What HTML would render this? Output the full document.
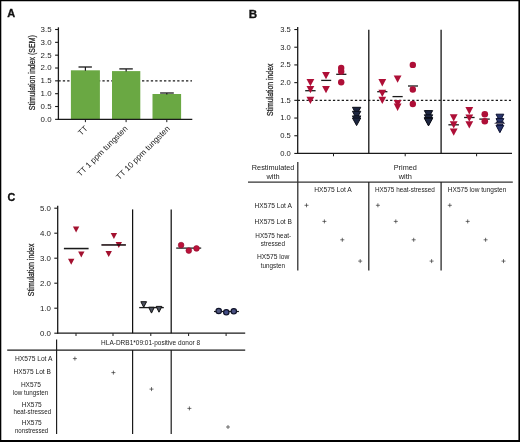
<!DOCTYPE html>
<html lang="en"><head><meta charset="utf-8"><title>Figure</title>
<style>
html,body{margin:0;padding:0;background:#fff;}
body{width:520px;height:442px;overflow:hidden;position:relative;font-family:"Liberation Sans",sans-serif;}
svg{position:absolute;left:0;top:0;display:block;opacity:0.999;will-change:transform;font-family:"Liberation Sans",sans-serif;}
</style></head>
<body>
<svg width="520" height="442" viewBox="0 0 520 442">
<rect x="0" y="0" width="520" height="442" fill="#fff"/>
<text x="7.30" y="13.30" font-size="10.5" text-anchor="start" font-weight="bold" fill="#111" dominant-baseline="central" textLength="7.90" lengthAdjust="spacingAndGlyphs" stroke="#111" stroke-width="0.3">A</text>
<text x="248.80" y="13.80" font-size="10.5" text-anchor="start" font-weight="bold" fill="#111" dominant-baseline="central" textLength="8.40" lengthAdjust="spacingAndGlyphs" stroke="#111" stroke-width="0.3">B</text>
<text x="7.60" y="196.50" font-size="10.5" text-anchor="start" font-weight="bold" fill="#111" dominant-baseline="central" textLength="7.80" lengthAdjust="spacingAndGlyphs" stroke="#111" stroke-width="0.3">C</text>
<line x1="58.40" y1="80.84" x2="192.00" y2="80.84" stroke="#1a1a1a" stroke-width="1.2" stroke-dasharray="2.3 2.1"/>
<rect x="70.90" y="70.30" width="29.00" height="49.05" fill="#6aa843"/>
<line x1="85.40" y1="67.00" x2="85.40" y2="70.80" stroke="#1a1a1a" stroke-width="1.2"/>
<line x1="78.50" y1="67.00" x2="91.90" y2="67.00" stroke="#1a1a1a" stroke-width="1.3"/>
<rect x="112.00" y="71.10" width="28.30" height="48.25" fill="#6aa843"/>
<line x1="126.15" y1="68.90" x2="126.15" y2="71.60" stroke="#1a1a1a" stroke-width="1.2"/>
<line x1="119.30" y1="68.90" x2="132.80" y2="68.90" stroke="#1a1a1a" stroke-width="1.3"/>
<rect x="152.50" y="94.00" width="28.60" height="25.35" fill="#6aa843"/>
<line x1="166.80" y1="93.00" x2="166.80" y2="94.50" stroke="#1a1a1a" stroke-width="1.2"/>
<line x1="160.10" y1="93.00" x2="173.80" y2="93.00" stroke="#1a1a1a" stroke-width="1.3"/>
<line x1="58.40" y1="27.30" x2="58.40" y2="119.95" stroke="#1a1a1a" stroke-width="1.3"/>
<line x1="57.80" y1="119.35" x2="192.30" y2="119.35" stroke="#1a1a1a" stroke-width="1.3"/>
<line x1="55.10" y1="119.35" x2="58.40" y2="119.35" stroke="#1a1a1a" stroke-width="1.1"/>
<text x="51.60" y="119.25" font-size="8" text-anchor="end" font-weight="normal" fill="#222" dominant-baseline="central" textLength="11.00" lengthAdjust="spacingAndGlyphs" >0.0</text>
<line x1="55.10" y1="106.51" x2="58.40" y2="106.51" stroke="#1a1a1a" stroke-width="1.1"/>
<text x="51.60" y="106.41" font-size="8" text-anchor="end" font-weight="normal" fill="#222" dominant-baseline="central" textLength="11.00" lengthAdjust="spacingAndGlyphs" >0.5</text>
<line x1="55.10" y1="93.68" x2="58.40" y2="93.68" stroke="#1a1a1a" stroke-width="1.1"/>
<text x="51.60" y="93.58" font-size="8" text-anchor="end" font-weight="normal" fill="#222" dominant-baseline="central" textLength="11.00" lengthAdjust="spacingAndGlyphs" >1.0</text>
<line x1="55.10" y1="80.84" x2="58.40" y2="80.84" stroke="#1a1a1a" stroke-width="1.1"/>
<text x="51.60" y="80.75" font-size="8" text-anchor="end" font-weight="normal" fill="#222" dominant-baseline="central" textLength="11.00" lengthAdjust="spacingAndGlyphs" >1.5</text>
<line x1="55.10" y1="68.01" x2="58.40" y2="68.01" stroke="#1a1a1a" stroke-width="1.1"/>
<text x="51.60" y="67.91" font-size="8" text-anchor="end" font-weight="normal" fill="#222" dominant-baseline="central" textLength="11.00" lengthAdjust="spacingAndGlyphs" >2.0</text>
<line x1="55.10" y1="55.17" x2="58.40" y2="55.17" stroke="#1a1a1a" stroke-width="1.1"/>
<text x="51.60" y="55.07" font-size="8" text-anchor="end" font-weight="normal" fill="#222" dominant-baseline="central" textLength="11.00" lengthAdjust="spacingAndGlyphs" >2.5</text>
<line x1="55.10" y1="42.34" x2="58.40" y2="42.34" stroke="#1a1a1a" stroke-width="1.1"/>
<text x="51.60" y="42.24" font-size="8" text-anchor="end" font-weight="normal" fill="#222" dominant-baseline="central" textLength="11.00" lengthAdjust="spacingAndGlyphs" >3.0</text>
<line x1="55.10" y1="29.50" x2="58.40" y2="29.50" stroke="#1a1a1a" stroke-width="1.1"/>
<text x="51.60" y="29.40" font-size="8" text-anchor="end" font-weight="normal" fill="#222" dominant-baseline="central" textLength="11.00" lengthAdjust="spacingAndGlyphs" >3.5</text>
<line x1="85.40" y1="119.35" x2="85.40" y2="122.15" stroke="#1a1a1a" stroke-width="1.0"/>
<line x1="126.10" y1="119.35" x2="126.10" y2="122.15" stroke="#1a1a1a" stroke-width="1.0"/>
<line x1="166.80" y1="119.35" x2="166.80" y2="122.15" stroke="#1a1a1a" stroke-width="1.0"/>
<text transform="translate(31.80,72.70) rotate(-90)" font-size="8.5" text-anchor="middle" dominant-baseline="central" fill="#222" stroke="#222" stroke-width="0.25" textLength="75.00" lengthAdjust="spacingAndGlyphs">Stimulation index (SEM)</text>
<text transform="translate(86.50,127.30) rotate(-45)" font-size="8.1" text-anchor="end" dominant-baseline="central" fill="#222">TT</text>
<text transform="translate(126.40,127.30) rotate(-45)" font-size="8.1" text-anchor="end" dominant-baseline="central" fill="#222">TT 1 ppm tungsten</text>
<text transform="translate(168.60,127.30) rotate(-45)" font-size="8.1" text-anchor="end" dominant-baseline="central" fill="#222">TT 10 ppm tungsten</text>
<line x1="297.70" y1="100.33" x2="511.00" y2="100.33" stroke="#1a1a1a" stroke-width="1.2" stroke-dasharray="2.3 2.1"/>
<line x1="305.20" y1="90.70" x2="315.60" y2="90.70" stroke="#1a1a1a" stroke-width="1.3"/>
<line x1="321.20" y1="80.40" x2="331.20" y2="80.40" stroke="#1a1a1a" stroke-width="1.3"/>
<line x1="336.20" y1="74.30" x2="346.40" y2="74.30" stroke="#1a1a1a" stroke-width="1.3"/>
<line x1="377.20" y1="91.70" x2="387.40" y2="91.70" stroke="#1a1a1a" stroke-width="1.3"/>
<line x1="392.50" y1="96.60" x2="402.70" y2="96.60" stroke="#1a1a1a" stroke-width="1.3"/>
<line x1="408.00" y1="86.00" x2="418.00" y2="86.00" stroke="#1a1a1a" stroke-width="1.3"/>
<line x1="448.40" y1="124.80" x2="458.90" y2="124.80" stroke="#1a1a1a" stroke-width="1.3"/>
<line x1="464.10" y1="117.50" x2="474.60" y2="117.50" stroke="#1a1a1a" stroke-width="1.3"/>
<line x1="479.30" y1="119.10" x2="489.80" y2="119.10" stroke="#1a1a1a" stroke-width="1.3"/>
<polygon points="306.50,79.00 314.30,79.00 310.40,86.30" fill="#ae0f37"/>
<polygon points="306.50,86.00 314.30,86.00 310.40,93.30" fill="#ae0f37"/>
<polygon points="306.50,96.70 314.30,96.70 310.40,104.00" fill="#ae0f37"/>
<polygon points="322.10,71.90 329.90,71.90 326.00,79.20" fill="#ae0f37"/>
<polygon points="322.10,86.00 329.90,86.00 326.00,93.30" fill="#ae0f37"/>
<circle cx="341.20" cy="68.00" r="3.2" fill="#ae0f37"/>
<circle cx="341.20" cy="71.50" r="3.2" fill="#ae0f37"/>
<circle cx="341.20" cy="82.30" r="3.2" fill="#ae0f37"/>
<polygon points="352.45,107.30 360.75,107.30 356.60,114.90" fill="#1d2640" stroke="#0b0e18" stroke-width="1.0" stroke-linejoin="miter"/>
<polygon points="352.45,111.30 360.75,111.30 356.60,118.90" fill="#1d2640" stroke="#0b0e18" stroke-width="1.0" stroke-linejoin="miter"/>
<polygon points="352.45,115.90 360.75,115.90 356.60,123.50" fill="#1d2640" stroke="#0b0e18" stroke-width="1.0" stroke-linejoin="miter"/>
<polygon points="352.45,118.00 360.75,118.00 356.60,125.60" fill="#1d2640" stroke="#0b0e18" stroke-width="1.0" stroke-linejoin="miter"/>
<polygon points="378.40,79.10 386.20,79.10 382.30,86.40" fill="#ae0f37"/>
<polygon points="378.40,89.70 386.20,89.70 382.30,97.00" fill="#ae0f37"/>
<polygon points="378.40,96.80 386.20,96.80 382.30,104.10" fill="#ae0f37"/>
<polygon points="393.70,75.50 401.50,75.50 397.60,82.80" fill="#ae0f37"/>
<polygon points="393.70,99.90 401.50,99.90 397.60,107.20" fill="#ae0f37"/>
<polygon points="393.70,103.60 401.50,103.60 397.60,110.90" fill="#ae0f37"/>
<circle cx="412.80" cy="64.90" r="3.2" fill="#ae0f37"/>
<circle cx="412.80" cy="89.50" r="3.2" fill="#ae0f37"/>
<circle cx="412.80" cy="104.00" r="3.2" fill="#ae0f37"/>
<polygon points="424.35,110.60 432.65,110.60 428.50,118.20" fill="#1d2640" stroke="#0b0e18" stroke-width="1.0" stroke-linejoin="miter"/>
<polygon points="424.35,114.80 432.65,114.80 428.50,122.40" fill="#1d2640" stroke="#0b0e18" stroke-width="1.0" stroke-linejoin="miter"/>
<polygon points="424.35,117.50 432.65,117.50 428.50,125.10" fill="#1d2640" stroke="#0b0e18" stroke-width="1.0" stroke-linejoin="miter"/>
<polygon points="424.35,118.30 432.65,118.30 428.50,125.90" fill="#1d2640" stroke="#0b0e18" stroke-width="1.0" stroke-linejoin="miter"/>
<polygon points="449.80,114.30 457.60,114.30 453.70,121.60" fill="#ae0f37"/>
<polygon points="449.80,121.30 457.60,121.30 453.70,128.60" fill="#ae0f37"/>
<polygon points="449.80,128.40 457.60,128.40 453.70,135.70" fill="#ae0f37"/>
<polygon points="465.40,107.10 473.20,107.10 469.30,114.40" fill="#ae0f37"/>
<polygon points="465.40,114.40 473.20,114.40 469.30,121.70" fill="#ae0f37"/>
<polygon points="465.40,121.20 473.20,121.20 469.30,128.50" fill="#ae0f37"/>
<circle cx="484.80" cy="114.20" r="3.3" fill="#ae0f37"/>
<circle cx="484.80" cy="121.30" r="3.3" fill="#ae0f37"/>
<polygon points="496.00,114.20 503.80,114.20 499.90,121.60" fill="#28346a" stroke="#0c1030" stroke-width="1.0" stroke-linejoin="miter"/>
<polygon points="496.00,118.60 503.80,118.60 499.90,126.00" fill="#28346a" stroke="#0c1030" stroke-width="1.0" stroke-linejoin="miter"/>
<polygon points="496.00,122.10 503.80,122.10 499.90,129.50" fill="#28346a" stroke="#0c1030" stroke-width="1.0" stroke-linejoin="miter"/>
<polygon points="496.00,125.30 503.80,125.30 499.90,132.70" fill="#28346a" stroke="#0c1030" stroke-width="1.0" stroke-linejoin="miter"/>
<line x1="494.50" y1="123.40" x2="504.90" y2="123.40" stroke="#6b6470" stroke-width="1.0"/>
<line x1="297.70" y1="27.00" x2="297.70" y2="154.05" stroke="#1a1a1a" stroke-width="1.3"/>
<line x1="297.10" y1="153.45" x2="512.00" y2="153.45" stroke="#1a1a1a" stroke-width="1.3"/>
<line x1="294.30" y1="153.45" x2="297.70" y2="153.45" stroke="#1a1a1a" stroke-width="1.1"/>
<text x="290.80" y="153.25" font-size="8" text-anchor="end" font-weight="normal" fill="#222" dominant-baseline="central" textLength="10.60" lengthAdjust="spacingAndGlyphs" >0.0</text>
<line x1="294.30" y1="135.75" x2="297.70" y2="135.75" stroke="#1a1a1a" stroke-width="1.1"/>
<text x="290.80" y="135.55" font-size="8" text-anchor="end" font-weight="normal" fill="#222" dominant-baseline="central" textLength="10.60" lengthAdjust="spacingAndGlyphs" >0.5</text>
<line x1="294.30" y1="118.04" x2="297.70" y2="118.04" stroke="#1a1a1a" stroke-width="1.1"/>
<text x="290.80" y="117.84" font-size="8" text-anchor="end" font-weight="normal" fill="#222" dominant-baseline="central" textLength="10.60" lengthAdjust="spacingAndGlyphs" >1.0</text>
<line x1="294.30" y1="100.33" x2="297.70" y2="100.33" stroke="#1a1a1a" stroke-width="1.1"/>
<text x="290.80" y="100.13" font-size="8" text-anchor="end" font-weight="normal" fill="#222" dominant-baseline="central" textLength="10.60" lengthAdjust="spacingAndGlyphs" >1.5</text>
<line x1="294.30" y1="82.63" x2="297.70" y2="82.63" stroke="#1a1a1a" stroke-width="1.1"/>
<text x="290.80" y="82.43" font-size="8" text-anchor="end" font-weight="normal" fill="#222" dominant-baseline="central" textLength="10.60" lengthAdjust="spacingAndGlyphs" >2.0</text>
<line x1="294.30" y1="64.92" x2="297.70" y2="64.92" stroke="#1a1a1a" stroke-width="1.1"/>
<text x="290.80" y="64.72" font-size="8" text-anchor="end" font-weight="normal" fill="#222" dominant-baseline="central" textLength="10.60" lengthAdjust="spacingAndGlyphs" >2.5</text>
<line x1="294.30" y1="47.22" x2="297.70" y2="47.22" stroke="#1a1a1a" stroke-width="1.1"/>
<text x="290.80" y="47.02" font-size="8" text-anchor="end" font-weight="normal" fill="#222" dominant-baseline="central" textLength="10.60" lengthAdjust="spacingAndGlyphs" >3.0</text>
<line x1="294.30" y1="29.52" x2="297.70" y2="29.52" stroke="#1a1a1a" stroke-width="1.1"/>
<text x="290.80" y="29.32" font-size="8" text-anchor="end" font-weight="normal" fill="#222" dominant-baseline="central" textLength="10.60" lengthAdjust="spacingAndGlyphs" >3.5</text>
<line x1="333.50" y1="153.45" x2="333.50" y2="156.25" stroke="#1a1a1a" stroke-width="1.0"/>
<line x1="405.20" y1="153.45" x2="405.20" y2="156.25" stroke="#1a1a1a" stroke-width="1.0"/>
<line x1="476.60" y1="153.45" x2="476.60" y2="156.25" stroke="#1a1a1a" stroke-width="1.0"/>
<line x1="368.80" y1="29.70" x2="368.80" y2="153.45" stroke="#151515" stroke-width="1.3"/>
<line x1="441.10" y1="29.70" x2="441.10" y2="153.45" stroke="#151515" stroke-width="1.3"/>
<text transform="translate(270.30,89.80) rotate(-90)" font-size="8.5" text-anchor="middle" dominant-baseline="central" fill="#222" stroke="#222" stroke-width="0.25" textLength="52.40" lengthAdjust="spacingAndGlyphs">Stimulation index</text>
<line x1="297.80" y1="162.00" x2="297.80" y2="270.60" stroke="#222" stroke-width="1.2"/>
<line x1="248.00" y1="182.00" x2="512.80" y2="182.00" stroke="#333" stroke-width="1.25"/>
<line x1="368.80" y1="182.00" x2="368.80" y2="270.60" stroke="#222" stroke-width="1.25"/>
<line x1="441.10" y1="182.00" x2="441.10" y2="270.60" stroke="#222" stroke-width="1.25"/>
<text x="273.10" y="167.10" font-size="7.3" text-anchor="middle" font-weight="normal" fill="#222" dominant-baseline="central" textLength="42.60" lengthAdjust="spacingAndGlyphs" >Restimulated</text>
<text x="273.10" y="176.60" font-size="7.3" text-anchor="middle" font-weight="normal" fill="#222" dominant-baseline="central" textLength="13.20" lengthAdjust="spacingAndGlyphs" >with</text>
<text x="405.30" y="167.20" font-size="7.3" text-anchor="middle" font-weight="normal" fill="#222" dominant-baseline="central" >Primed</text>
<text x="405.30" y="176.40" font-size="7.3" text-anchor="middle" font-weight="normal" fill="#222" dominant-baseline="central" textLength="13.20" lengthAdjust="spacingAndGlyphs" >with</text>
<text x="314.20" y="189.60" font-size="6.7" text-anchor="start" font-weight="normal" fill="#222" dominant-baseline="central" textLength="37.50" lengthAdjust="spacingAndGlyphs" >HX575 Lot A</text>
<text x="374.90" y="189.60" font-size="6.7" text-anchor="start" font-weight="normal" fill="#222" dominant-baseline="central" textLength="60.00" lengthAdjust="spacingAndGlyphs" >HX575 heat-stressed</text>
<text x="447.80" y="189.60" font-size="6.7" text-anchor="start" font-weight="normal" fill="#222" dominant-baseline="central" textLength="58.50" lengthAdjust="spacingAndGlyphs" >HX575 low tungsten</text>
<text x="273.20" y="205.00" font-size="6.7" text-anchor="middle" font-weight="normal" fill="#222" dominant-baseline="central" textLength="37.30" lengthAdjust="spacingAndGlyphs" >HX575 Lot A</text>
<text x="273.20" y="221.50" font-size="6.7" text-anchor="middle" font-weight="normal" fill="#222" dominant-baseline="central" textLength="37.30" lengthAdjust="spacingAndGlyphs" >HX575 Lot B</text>
<text x="273.20" y="235.70" font-size="6.7" text-anchor="middle" font-weight="normal" fill="#222" dominant-baseline="central" textLength="35.80" lengthAdjust="spacingAndGlyphs" >HX575 heat-</text>
<text x="272.90" y="243.50" font-size="6.7" text-anchor="middle" font-weight="normal" fill="#222" dominant-baseline="central" textLength="24.10" lengthAdjust="spacingAndGlyphs" >stressed</text>
<text x="273.20" y="256.70" font-size="6.7" text-anchor="middle" font-weight="normal" fill="#222" dominant-baseline="central" textLength="32.30" lengthAdjust="spacingAndGlyphs" >HX575 low</text>
<text x="272.90" y="265.00" font-size="6.7" text-anchor="middle" font-weight="normal" fill="#222" dominant-baseline="central" textLength="24.10" lengthAdjust="spacingAndGlyphs" >tungsten</text>
<path d="M304.50,205.30H308.50M306.50,203.30V207.30" stroke="#333" stroke-width="0.7" fill="none"/>
<path d="M322.40,221.40H326.40M324.40,219.40V223.40" stroke="#333" stroke-width="0.7" fill="none"/>
<path d="M340.30,239.80H344.30M342.30,237.80V241.80" stroke="#333" stroke-width="0.7" fill="none"/>
<path d="M358.20,261.10H362.20M360.20,259.10V263.10" stroke="#333" stroke-width="0.7" fill="none"/>
<path d="M375.90,205.30H379.90M377.90,203.30V207.30" stroke="#333" stroke-width="0.7" fill="none"/>
<path d="M393.80,221.40H397.80M395.80,219.40V223.40" stroke="#333" stroke-width="0.7" fill="none"/>
<path d="M411.70,239.80H415.70M413.70,237.80V241.80" stroke="#333" stroke-width="0.7" fill="none"/>
<path d="M429.60,261.10H433.60M431.60,259.10V263.10" stroke="#333" stroke-width="0.7" fill="none"/>
<path d="M447.80,205.30H451.80M449.80,203.30V207.30" stroke="#333" stroke-width="0.7" fill="none"/>
<path d="M465.70,221.40H469.70M467.70,219.40V223.40" stroke="#333" stroke-width="0.7" fill="none"/>
<path d="M483.60,239.80H487.60M485.60,237.80V241.80" stroke="#333" stroke-width="0.7" fill="none"/>
<path d="M501.50,261.10H505.50M503.50,259.10V263.10" stroke="#333" stroke-width="0.7" fill="none"/>
<line x1="63.90" y1="248.55" x2="88.60" y2="248.55" stroke="#1a1a1a" stroke-width="1.55"/>
<line x1="139.20" y1="307.60" x2="163.80" y2="307.60" stroke="#1a1a1a" stroke-width="1.3"/>
<line x1="176.20" y1="248.10" x2="201.20" y2="248.10" stroke="#1a1a1a" stroke-width="1.25"/>
<line x1="214.00" y1="311.50" x2="238.90" y2="311.50" stroke="#1a1a1a" stroke-width="1.2"/>
<polygon points="72.90,226.50 79.30,226.50 76.10,232.50" fill="#a3112f"/>
<polygon points="78.10,251.40 84.50,251.40 81.30,257.40" fill="#a3112f"/>
<polygon points="68.00,258.70 74.40,258.70 71.20,264.70" fill="#a3112f"/>
<polygon points="110.70,233.10 117.10,233.10 113.90,239.10" fill="#a3112f"/>
<polygon points="115.60,241.90 122.00,241.90 118.80,247.90" fill="#a3112f"/>
<polygon points="105.50,251.10 111.90,251.10 108.70,257.10" fill="#a3112f"/>
<line x1="101.40" y1="244.95" x2="125.90" y2="244.95" stroke="#1a0a0e" stroke-width="1.55"/>
<polygon points="140.85,301.70 146.55,301.70 143.70,307.30" fill="#4d515e" stroke="#111" stroke-width="1.0" stroke-linejoin="miter"/>
<polygon points="148.65,307.20 154.35,307.20 151.50,313.10" fill="#4d515e" stroke="#111" stroke-width="1.0" stroke-linejoin="miter"/>
<polygon points="156.15,306.40 161.85,306.40 159.00,312.20" fill="#4d515e" stroke="#111" stroke-width="1.0" stroke-linejoin="miter"/>
<circle cx="181.10" cy="245.10" r="2.85" fill="#bb123b" stroke="#8f0b2b" stroke-width="0.6"/>
<circle cx="188.80" cy="250.60" r="2.85" fill="#bb123b" stroke="#8f0b2b" stroke-width="0.6"/>
<circle cx="196.50" cy="248.40" r="2.85" fill="#bb123b" stroke="#8f0b2b" stroke-width="0.6"/>
<circle cx="218.70" cy="311.00" r="2.7" fill="#50577f" stroke="#10142a" stroke-width="1.2"/>
<circle cx="226.30" cy="312.30" r="2.7" fill="#414b84" stroke="#10142a" stroke-width="1.2"/>
<circle cx="233.80" cy="311.30" r="2.7" fill="#4a5182" stroke="#10142a" stroke-width="1.2"/>
<line x1="57.70" y1="205.80" x2="57.70" y2="333.80" stroke="#1a1a1a" stroke-width="1.3"/>
<line x1="57.10" y1="333.20" x2="245.20" y2="333.20" stroke="#1a1a1a" stroke-width="1.3"/>
<line x1="54.30" y1="333.20" x2="57.70" y2="333.20" stroke="#1a1a1a" stroke-width="1.1"/>
<text x="50.90" y="333.10" font-size="8" text-anchor="end" font-weight="normal" fill="#222" dominant-baseline="central" textLength="11.00" lengthAdjust="spacingAndGlyphs" >0.0</text>
<line x1="54.30" y1="308.20" x2="57.70" y2="308.20" stroke="#1a1a1a" stroke-width="1.1"/>
<text x="50.90" y="308.10" font-size="8" text-anchor="end" font-weight="normal" fill="#222" dominant-baseline="central" textLength="11.00" lengthAdjust="spacingAndGlyphs" >1.0</text>
<line x1="54.30" y1="283.20" x2="57.70" y2="283.20" stroke="#1a1a1a" stroke-width="1.1"/>
<text x="50.90" y="283.10" font-size="8" text-anchor="end" font-weight="normal" fill="#222" dominant-baseline="central" textLength="11.00" lengthAdjust="spacingAndGlyphs" >2.0</text>
<line x1="54.30" y1="258.20" x2="57.70" y2="258.20" stroke="#1a1a1a" stroke-width="1.1"/>
<text x="50.90" y="258.10" font-size="8" text-anchor="end" font-weight="normal" fill="#222" dominant-baseline="central" textLength="11.00" lengthAdjust="spacingAndGlyphs" >3.0</text>
<line x1="54.30" y1="233.20" x2="57.70" y2="233.20" stroke="#1a1a1a" stroke-width="1.1"/>
<text x="50.90" y="233.10" font-size="8" text-anchor="end" font-weight="normal" fill="#222" dominant-baseline="central" textLength="11.00" lengthAdjust="spacingAndGlyphs" >4.0</text>
<line x1="54.30" y1="208.20" x2="57.70" y2="208.20" stroke="#1a1a1a" stroke-width="1.1"/>
<text x="50.90" y="208.10" font-size="8" text-anchor="end" font-weight="normal" fill="#222" dominant-baseline="central" textLength="11.00" lengthAdjust="spacingAndGlyphs" >5.0</text>
<line x1="76.00" y1="333.20" x2="76.00" y2="336.00" stroke="#1a1a1a" stroke-width="1.0"/>
<line x1="113.00" y1="333.20" x2="113.00" y2="336.00" stroke="#1a1a1a" stroke-width="1.0"/>
<line x1="150.80" y1="333.20" x2="150.80" y2="336.00" stroke="#1a1a1a" stroke-width="1.0"/>
<line x1="188.60" y1="333.20" x2="188.60" y2="336.00" stroke="#1a1a1a" stroke-width="1.0"/>
<line x1="226.10" y1="333.20" x2="226.10" y2="336.00" stroke="#1a1a1a" stroke-width="1.0"/>
<line x1="132.60" y1="209.40" x2="132.60" y2="333.20" stroke="#111" stroke-width="1.25"/>
<line x1="171.20" y1="209.40" x2="171.20" y2="333.20" stroke="#111" stroke-width="1.25"/>
<text transform="translate(31.00,269.90) rotate(-90)" font-size="8.5" text-anchor="middle" dominant-baseline="central" fill="#222" stroke="#222" stroke-width="0.25" textLength="52.50" lengthAdjust="spacingAndGlyphs">Stimulation index</text>
<line x1="56.60" y1="339.40" x2="56.60" y2="434.00" stroke="#1a1a1a" stroke-width="1.15"/>
<line x1="7.20" y1="350.10" x2="245.20" y2="350.10" stroke="#1a1a1a" stroke-width="1.2"/>
<line x1="132.60" y1="350.10" x2="132.60" y2="434.00" stroke="#1a1a1a" stroke-width="1.2"/>
<line x1="171.20" y1="350.10" x2="171.20" y2="434.00" stroke="#1a1a1a" stroke-width="1.2"/>
<text x="101.10" y="342.60" font-size="6.7" text-anchor="start" font-weight="normal" fill="#222" dominant-baseline="central" textLength="99.00" lengthAdjust="spacingAndGlyphs" >HLA-DRB1*09:01-positive donor 8</text>
<text x="33.70" y="358.20" font-size="6.7" text-anchor="middle" font-weight="normal" fill="#222" dominant-baseline="central" textLength="37.40" lengthAdjust="spacingAndGlyphs" >HX575 Lot A</text>
<text x="32.20" y="371.90" font-size="6.7" text-anchor="middle" font-weight="normal" fill="#222" dominant-baseline="central" textLength="37.30" lengthAdjust="spacingAndGlyphs" >HX575 Lot B</text>
<text x="30.90" y="384.80" font-size="6.7" text-anchor="middle" font-weight="normal" fill="#222" dominant-baseline="central" textLength="20.00" lengthAdjust="spacingAndGlyphs" >HX575</text>
<text x="30.60" y="392.90" font-size="6.7" text-anchor="middle" font-weight="normal" fill="#222" dominant-baseline="central" textLength="35.30" lengthAdjust="spacingAndGlyphs" >low tungsten</text>
<text x="31.70" y="404.20" font-size="6.7" text-anchor="middle" font-weight="normal" fill="#222" dominant-baseline="central" textLength="20.00" lengthAdjust="spacingAndGlyphs" >HX575</text>
<text x="32.30" y="411.90" font-size="6.7" text-anchor="middle" font-weight="normal" fill="#222" dominant-baseline="central" textLength="37.70" lengthAdjust="spacingAndGlyphs" >heat-stressed</text>
<text x="31.70" y="422.50" font-size="6.7" text-anchor="middle" font-weight="normal" fill="#222" dominant-baseline="central" textLength="20.00" lengthAdjust="spacingAndGlyphs" >HX575</text>
<text x="31.60" y="430.60" font-size="6.7" text-anchor="middle" font-weight="normal" fill="#222" dominant-baseline="central" textLength="33.30" lengthAdjust="spacingAndGlyphs" >nonstressed</text>
<path d="M72.90,358.60H76.90M74.90,356.60V360.60" stroke="#333" stroke-width="0.7" fill="none"/>
<path d="M111.40,372.60H115.40M113.40,370.60V374.60" stroke="#333" stroke-width="0.7" fill="none"/>
<path d="M149.50,389.10H153.50M151.50,387.10V391.10" stroke="#333" stroke-width="0.7" fill="none"/>
<path d="M187.40,408.40H191.40M189.40,406.40V410.40" stroke="#333" stroke-width="0.7" fill="none"/>
<path d="M226.00,427.00H230.00M228.00,425.00V429.00" stroke="#333" stroke-width="0.7" fill="none"/>
<path d="M0,0H520V442H0Z M1.3,1.2V440.1H518.4V1.2Z" fill="#000" fill-rule="evenodd"/>
</svg>
</body></html>
